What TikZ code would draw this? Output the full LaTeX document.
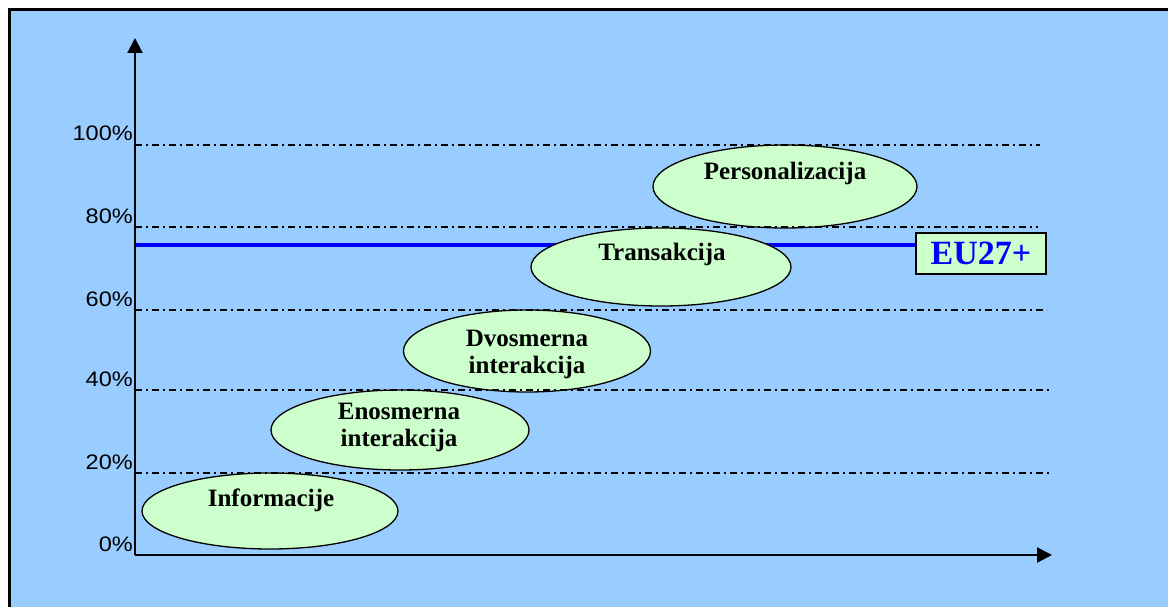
\documentclass[tikz,border=0pt]{standalone}
\usepackage{fontspec}
\setmainfont{Liberation Serif}
\newfontfamily\arialf{Liberation Sans}
\usetikzlibrary{arrows.meta,shapes.geometric}
\definecolor{bgblue}{HTML}{99CCFF}
\definecolor{pale}{HTML}{CCFFCC}
\begin{document}
\begin{tikzpicture}[x=1pt,y=-1pt,
  oval/.style={ellipse,draw=black,line width=1.3pt,fill=pale,inner sep=0pt},
  lbl/.style={font=\bfseries\fontsize{25}{26.5}\selectfont,align=center,inner sep=0pt,anchor=base},
  pct/.style={font=\arialf\fontsize{21}{21}\selectfont,anchor=base east,inner sep=0pt},
  gridln/.style={line width=1.3pt,dash pattern=on 7pt off 4pt on 2pt off 4pt},
  axisln/.style={line width=2.2pt,-{Triangle[width=15pt,length=15pt]}},
  euline/.style={draw=blue,line width=3.5pt}]
\useasboundingbox (0,0) rectangle (1168,607);
\fill[white] (0,0) rectangle (1168,607);
\fill[bgblue] (9.5,9.5) rectangle (1168,607);
\draw[line width=3pt] (9.5,620) -- (9.5,9.5) -- (1180,9.5);

% coordinates
\coordinate (o) at (135,555);
\coordinate (ytip) at (135,38);
\coordinate (xtip) at (1052,555);
\coordinate (g1s) at (135,473); \coordinate (g1e) at (1052,473);
\coordinate (g2s) at (135,390); \coordinate (g2e) at (1049,390);
\coordinate (g3s) at (135,310); \coordinate (g3e) at (1047,310);
\coordinate (g4s) at (135,227); \coordinate (g4e) at (1038,227);
\coordinate (g5s) at (135,145); \coordinate (g5e) at (1040,145);
\coordinate (b0) at (135,245);

% EU27+ box
\node[draw=black,line width=1.3pt,fill=pale,minimum width=130pt,minimum height=41pt,inner sep=0pt,
      font=\bfseries\fontsize{34}{34}\selectfont,text=blue] (eu) at (981,253.5) {EU27+};
\draw[euline] (b0) -- (b0 -| eu.west);

% ellipses
\node[oval,minimum width=256pt,minimum height=76pt] (e1) at (270,511) {};
\node[oval,minimum width=258pt,minimum height=80pt] (e2) at (400,430) {};
\node[oval,minimum width=247pt,minimum height=82pt] (e3) at (527,351) {};
\node[oval,minimum width=260pt,minimum height=78pt] (e4) at (661,267) {};
\node[oval,minimum width=264pt,minimum height=83pt] (e5) at (785,186.5) {};

% gridlines
\draw[gridln] (g1s) -- (g1e);
\draw[gridln] (g2s) -- (g2e);
\draw[gridln] (g3s) -- (g3e);
\draw[gridln] (g4s) -- (g4e);
\draw[gridln] (g5s) -- (g5e);

% axes
\draw[axisln] (o) -- (ytip);
\draw[axisln] (o) -- (xtip);

% percentage labels
\node[pct] (p0) at (133,551) {\scalebox{1.12}[1]{0\%}};
\node[pct] (p1) at (133,469) {\scalebox{1.12}[1]{20\%}};
\node[pct] (p2) at (133,386) {\scalebox{1.12}[1]{40\%}};
\node[pct] (p3) at (133,306) {\scalebox{1.12}[1]{60\%}};
\node[pct] (p4) at (133,223) {\scalebox{1.12}[1]{80\%}};
\node[pct] (p5) at (133,141) {\scalebox{1.12}[1]{100\%}};

% ellipse texts
\node[lbl] (t1) at (271,506) {Informacije};
\node[lbl] (t2) at (399,446) {Enosmerna\\interakcija};
\node[lbl] (t3) at (527,373) {Dvosmerna\\interakcija};
\node[lbl] (t4) at (662,260) {Transakcija};
\node[lbl] (t5) at (785,180) {Personalizacija};
\end{tikzpicture}
\end{document}
